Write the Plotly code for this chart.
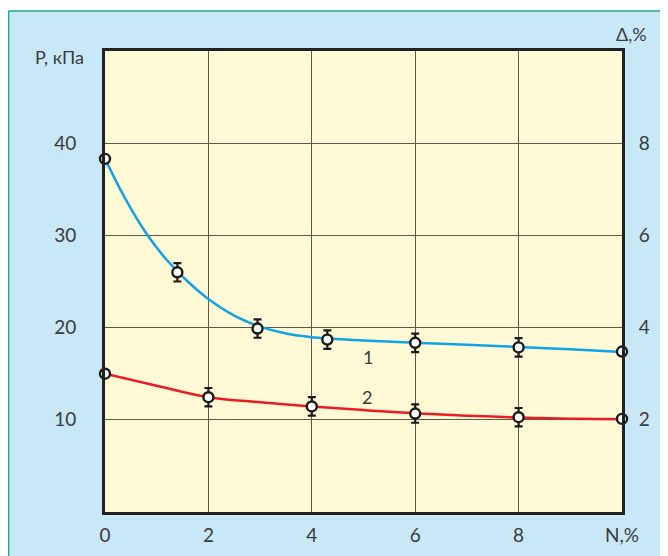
import plotly.graph_objects as go

# Curve 1 measured points (P, kPa)
n1 = [0, 1.4, 2.95, 4.3, 6, 8, 10]
p1 = [38.3, 26.0, 19.9, 18.7, 18.35, 17.85, 17.4]
e1 = [0, 1, 1, 1, 1, 1, 0]
# Curve 1 drawn line
n1_line = [0, 0.4, 0.8, 1.2, 1.6, 2.0, 2.5, 3.0, 3.5, 4.0, 5, 6, 7, 8, 9, 10]
p1_line = [38.3, 33.9, 30.2, 27.3, 25.0, 23.1, 21.3, 20.1, 19.35, 18.95, 18.6, 18.35, 18.15, 17.9, 17.65, 17.35]

# Curve 2 measured points
n2 = [0, 2, 4, 6, 8, 10]
p2 = [15.0, 12.45, 11.45, 10.68, 10.28, 10.1]
e2 = [0, 1, 1, 1, 1, 0]
n2_line = [0, 1, 2, 3, 4, 5, 6, 7, 8, 9, 10]
p2_line = [15.0, 13.7, 12.45, 11.9, 11.45, 11.05, 10.7, 10.45, 10.25, 10.12, 10.05]

x_ticks = [0, 2, 4, 6, 8, 10]
x_labels = ["0", "2", "4", "6", "8", "N,%"]
y_ticks = [10, 20, 30, 40]
y2_ticks = [2, 4, 6, 8]

FONT = "Lato"
TXT = "#3a3a3a"
BLUE = "#0ea4e6"
RED = "#ec1c24"

fig = go.Figure()
fig.add_trace(go.Scatter(x=n1_line, y=p1_line, mode="lines", line=dict(color=BLUE, width=2.5, shape="spline"), hoverinfo="skip"))
fig.add_trace(go.Scatter(x=n2_line, y=p2_line, mode="lines", line=dict(color=RED, width=2.5, shape="spline"), hoverinfo="skip"))
for xs, ys, es in [(n1, p1, e1), (n2, p2, e2)]:
    fig.add_trace(go.Scatter(
        x=xs, y=ys, mode="markers",
        marker=dict(size=10, color="white", line=dict(color="#1a1a1a", width=2.4)),
        error_y=dict(type="data", array=es, visible=True, color="#1a1a1a", thickness=2.2, width=4),
        cliponaxis=False,
    ))
# invisible trace to activate right axis
fig.add_trace(go.Scatter(x=[0], y=[0], yaxis="y2", mode="markers", marker=dict(opacity=0), hoverinfo="skip"))

fig.update_layout(
    width=660, height=548,
    margin=dict(l=97, r=46, t=43, b=44, autoexpand=False),
    paper_bgcolor="#c8e8f8",
    plot_bgcolor="#fff9d6",
    showlegend=False,
    font=dict(family=FONT, size=19, color=TXT),
    xaxis=dict(range=[0, 10], tickvals=x_ticks, ticktext=x_labels,
               showgrid=True, gridcolor="#5e574c", gridwidth=1.2,
               showline=True, linecolor="#222", linewidth=3, mirror=True,
               ticks="outside", ticklen=4, tickcolor="rgba(0,0,0,0)",
               zeroline=False, tickfont=dict(family=FONT, size=19, color=TXT)),
    yaxis=dict(range=[0, 50], tickvals=y_ticks,
               showgrid=True, gridcolor="#5e574c", gridwidth=1.2,
               showline=True, linecolor="#222", linewidth=3, mirror=True,
               ticks="outside", ticklen=22, tickcolor="rgba(0,0,0,0)",
               zeroline=False, tickfont=dict(family=FONT, size=19, color=TXT)),
    yaxis2=dict(range=[0, 10], tickvals=y2_ticks, overlaying="y", side="right",
                showgrid=False, showline=False, zeroline=False,
                ticks="outside", ticklen=12, tickcolor="rgba(0,0,0,0)",
                tickfont=dict(family=FONT, size=19, color=TXT)),
    shapes=[
        dict(type="rect", xref="paper", yref="paper", x0=-0.2, x1=1.2, y0=1.0868, y1=1.2,
             fillcolor="white", line=dict(width=0), layer="below"),
        dict(type="line", xref="paper", yref="paper", x0=-0.1866, x1=1.2, y0=1.0868, y1=1.0868,
             line=dict(color="#19a985", width=1.5)),
        dict(type="line", xref="paper", yref="paper", x0=-0.1866, x1=-0.1866, y0=-0.2, y1=1.0868,
             line=dict(color="#19a985", width=1.5)),
    ],
    annotations=[
        dict(text="P, кПа", xref="paper", yref="paper", x=-0.088, y=0.987, showarrow=False,
             font=dict(family=FONT, size=18, color=TXT), xanchor="center", yanchor="middle"),
        dict(text="Δ,%", xref="paper", yref="paper", x=1.019, y=1.037, showarrow=False,
             font=dict(family=FONT, size=18, color=TXT), xanchor="center", yanchor="middle"),
        dict(text="1", x=5.09, y=16.8, showarrow=False, font=dict(family=FONT, size=18, color=TXT)),
        dict(text="2", x=5.07, y=12.5, showarrow=False, font=dict(family=FONT, size=18, color=TXT)),
    ],
)

fig.write_html("out.html")
